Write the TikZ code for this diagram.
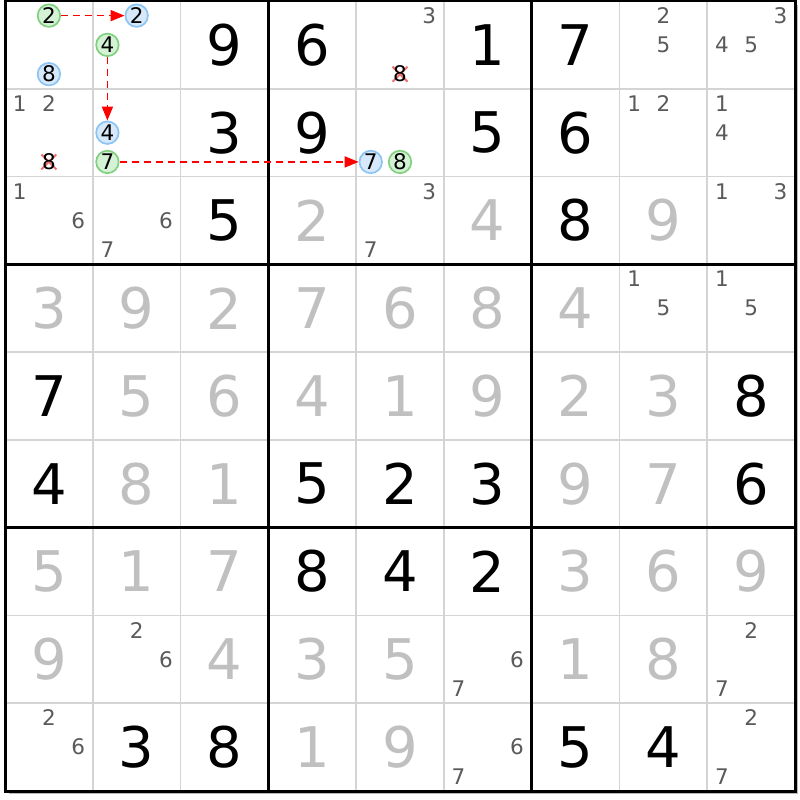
\documentclass[tikz,border=0pt]{standalone}
\usepackage{fontspec}
\setmainfont{DejaVu Sans}
\usetikzlibrary{arrows.meta}
\definecolor{candgray}{RGB}{90,90,90}
\definecolor{givengray}{RGB}{192,192,192}
\definecolor{gridgray}{RGB}{212,212,212}
\definecolor{greenfill}{RGB}{214,242,214}
\definecolor{greenline}{RGB}{128,208,128}
\definecolor{bluefill}{RGB}{214,232,250}
\definecolor{blueline}{RGB}{140,196,244}
\definecolor{xred}{RGB}{240,110,110}
\definecolor{linkred}{RGB}{255,0,0}
\newcommand{\cpos}[3]{%
 \pgfmathsetmacro{\candx}{5+87.78*(#2-1)+29.26*(mod(#3-1,3)+0.5)}%
 \pgfmathsetmacro{\candy}{1+87.78*(#1-1)+29.26*(floor((#3-1)/3)+0.5)}}
\newcommand{\cand}[4][cand]{\cpos{#2}{#3}{#4}\node[#1] (c#2#3#4) at (\candx,\candy) {#4};}
\newcommand{\xcand}[3]{\cpos{#1}{#2}{#3}%
 \draw[xred,line width=2pt] (\candx-7.5,\candy-7.5) -- (\candx+7.5,\candy+7.5) (\candx-7.5,\candy+7.5) -- (\candx+7.5,\candy-7.5);
 \node[cand,text=black] (c#1#2#3) at (\candx,\candy) {#3};}
\newcommand{\gv}[4][givenb]{\node[#1] (g#2#3) at ({5+87.78*(#3-0.5)},{1+87.78*(#2-0.5)}) {#4};}
\begin{document}
\begin{tikzpicture}[x=1pt,y=-1pt,
 givenb/.style={inner sep=0pt,font=\fontsize{56}{56}\selectfont,text=black},
 giveng/.style={givenb,text=givengray},
 cand/.style={inner sep=0pt,font=\fontsize{21.5}{21.5}\selectfont,text=candgray},
 gcirc/.style={circle,draw=greenline,fill=greenfill,line width=1.7pt,minimum size=22.5pt,inner sep=0pt,font=\fontsize{21.5}{21.5}\selectfont,text=black},
 bcirc/.style={gcirc,draw=blueline,fill=bluefill},
 link/.style={draw=linkred,dash pattern=on 7pt off 5pt,line width=1.7pt,-{Triangle[length=14pt,width=11pt,fill=linkred]}},
 gridthin/.style={gridgray,line width=1.8pt},
 gridthick/.style={black,line width=3pt,line cap=rect},
]
\useasboundingbox (0,0) rectangle (800,800);
\fill[white] (0,0) rectangle (800,800);
% grid
\foreach \i in {1,2,4,5,7,8} {
  \draw[gridthin] ({5+87.78*\i},1) -- ({5+87.78*\i},791);
  \draw[gridthin] (5,{1+87.78*\i}) -- (795,{1+87.78*\i});
}
\draw[gray!55,line width=1.5pt] (797.5,5) -- (797.5,793.5) -- (9,793.5);
\foreach \i in {0,3,6,9} {
  \draw[gridthick] ({5+87.78*\i},1) -- ({5+87.78*\i},791);
  \draw[gridthick] (5,{1+87.78*\i}) -- (795,{1+87.78*\i});
}
% givens
\gv{1}{3}{9}\gv{1}{4}{6}\gv{1}{6}{1}\gv{1}{7}{7}
\gv{2}{3}{3}\gv{2}{4}{9}\gv{2}{6}{5}\gv{2}{7}{6}
\gv{3}{3}{5}\gv[giveng]{3}{4}{2}\gv[giveng]{3}{6}{4}\gv{3}{7}{8}\gv[giveng]{3}{8}{9}
\gv[giveng]{4}{1}{3}\gv[giveng]{4}{2}{9}\gv[giveng]{4}{3}{2}\gv[giveng]{4}{4}{7}\gv[giveng]{4}{5}{6}\gv[giveng]{4}{6}{8}\gv[giveng]{4}{7}{4}
\gv{5}{1}{7}\gv[giveng]{5}{2}{5}\gv[giveng]{5}{3}{6}\gv[giveng]{5}{4}{4}\gv[giveng]{5}{5}{1}\gv[giveng]{5}{6}{9}\gv[giveng]{5}{7}{2}\gv[giveng]{5}{8}{3}\gv{5}{9}{8}
\gv{6}{1}{4}\gv[giveng]{6}{2}{8}\gv[giveng]{6}{3}{1}\gv{6}{4}{5}\gv{6}{5}{2}\gv{6}{6}{3}\gv[giveng]{6}{7}{9}\gv[giveng]{6}{8}{7}\gv{6}{9}{6}
\gv[giveng]{7}{1}{5}\gv[giveng]{7}{2}{1}\gv[giveng]{7}{3}{7}\gv{7}{4}{8}\gv{7}{5}{4}\gv{7}{6}{2}\gv[giveng]{7}{7}{3}\gv[giveng]{7}{8}{6}\gv[giveng]{7}{9}{9}
\gv[giveng]{8}{1}{9}\gv[giveng]{8}{3}{4}\gv[giveng]{8}{4}{3}\gv[giveng]{8}{5}{5}\gv[giveng]{8}{7}{1}\gv[giveng]{8}{8}{8}
\gv{9}{2}{3}\gv{9}{3}{8}\gv[giveng]{9}{4}{1}\gv[giveng]{9}{5}{9}\gv{9}{7}{5}\gv{9}{8}{4}
% candidates
\cand[gcirc]{1}{1}{2}\cand[bcirc]{1}{1}{8}
\cand[bcirc]{1}{2}{2}\cand[gcirc]{1}{2}{4}
\cand{1}{5}{3}\xcand{1}{5}{8}
\cand{1}{8}{2}\cand{1}{8}{5}
\cand{1}{9}{3}\cand{1}{9}{4}\cand{1}{9}{5}
\cand{2}{1}{1}\cand{2}{1}{2}\xcand{2}{1}{8}
\cand[bcirc]{2}{2}{4}\cand[gcirc]{2}{2}{7}
\cand[bcirc]{2}{5}{7}\cand[gcirc]{2}{5}{8}
\cand{2}{8}{1}\cand{2}{8}{2}
\cand{2}{9}{1}\cand{2}{9}{4}
\cand{3}{1}{1}\cand{3}{1}{6}
\cand{3}{2}{6}\cand{3}{2}{7}
\cand{3}{5}{3}\cand{3}{5}{7}
\cand{3}{9}{1}\cand{3}{9}{3}
\cand{4}{8}{1}\cand{4}{8}{5}
\cand{4}{9}{1}\cand{4}{9}{5}
\cand{8}{2}{2}\cand{8}{2}{6}
\cand{8}{6}{6}\cand{8}{6}{7}
\cand{8}{9}{2}\cand{8}{9}{7}
\cand{9}{1}{2}\cand{9}{1}{6}
\cand{9}{6}{6}\cand{9}{6}{7}
\cand{9}{9}{2}\cand{9}{9}{7}
% links
\draw[link] (c112) -- (c122);
\draw[link] (c124) -- (c224);
\draw[link] (c227) -- (c257);
\end{tikzpicture}
\end{document}
